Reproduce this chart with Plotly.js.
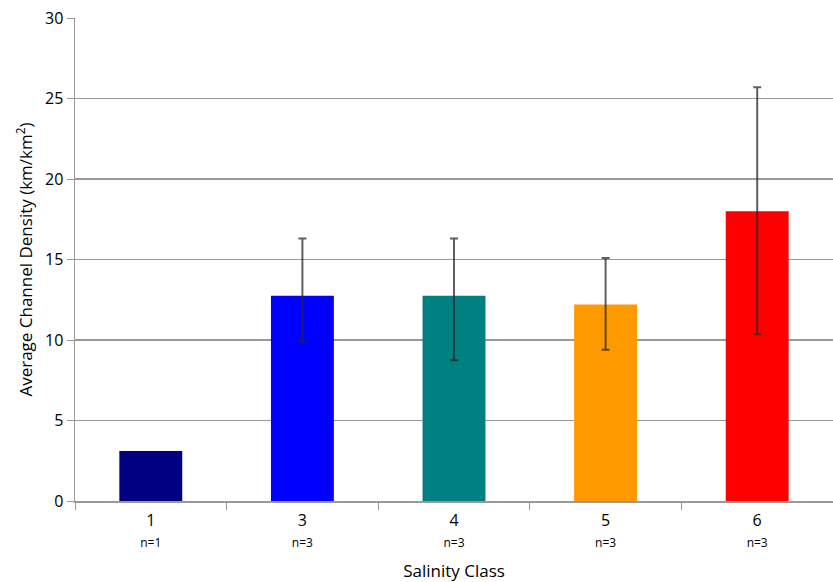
<!DOCTYPE html>
<html>
<head>
<meta charset="utf-8">
<script src="https://cdn.plot.ly/plotly-3.0.1.min.js"></script>
<style>html,body{margin:0;padding:0;background:#fff;}#chart{width:833px;height:582px;}</style>
</head>
<body>
<div id="chart"></div>
<script>
const categories = ['1', '3', '4', '5', '6'];
const sampleSizes = ['n=1', 'n=3', 'n=3', 'n=3', 'n=3'];
const meanDensity = [3.1, 12.75, 12.75, 12.2, 18.0];
const errorUpperValue = [null, 16.3, 16.3, 15.1, 25.7];
const errorLowerValue = [null, 9.9, 8.75, 9.4, 10.35];
const barColors = ['#000080', '#0000ff', '#008080', '#ff9900', '#ff0000'];

// error bars only where a range exists
const errIdx = categories.map((c, i) => i).filter(i => errorUpperValue[i] != null);
const errX = errIdx.map(i => categories[i]);
const errY = errIdx.map(i => meanDensity[i]);
const plus = errIdx.map(i => errorUpperValue[i] - meanDensity[i]);
const minus = errIdx.map(i => meanDensity[i] - errorLowerValue[i]);
const tickText = categories.map((c, i) => c + '<br><span style="font-size:12px">' + sampleSizes[i] + '</span>');

const bars = {
  type: 'bar',
  x: categories,
  y: meanDensity,
  marker: {color: barColors, line: {width: 0}},
  hoverinfo: 'none'
};
const errs = {
  type: 'scatter',
  mode: 'markers',
  x: errX,
  y: errY,
  marker: {size: 1, color: 'rgba(0,0,0,0)'},
  error_y: {
    type: 'data', symmetric: false,
    array: plus, arrayminus: minus,
    color: 'rgba(40,40,40,0.75)', thickness: 2, width: 4
  },
  hoverinfo: 'none'
};

const layout = {
  width: 833, height: 582,
  margin: {l: 75, r: 0, t: 18, b: 81},
  paper_bgcolor: '#fff', plot_bgcolor: '#fff',
  font: {family: 'Open Sans, DejaVu Sans, sans-serif', color: '#000'},
  showlegend: false,
  bargap: 0.585,
  xaxis: {
    type: 'category',
    tickvals: categories, ticktext: tickText,
    tickson: 'boundaries', ticks: 'outside', ticklen: 7, tickcolor: '#999',
    ticklabelstandoff: 4,
    showline: true, linecolor: '#999', linewidth: 1.5,
    showgrid: false, zeroline: false,
    tickfont: {size: 16, family: 'Open Sans, DejaVu Sans, sans-serif'},
    title: {text: 'Salinity Class', font: {size: 17}, standoff: 19}
  },
  yaxis: {
    range: [0, 30], dtick: 5, tick0: 0,
    ticks: 'outside', ticklen: 7, tickcolor: '#999',
    showline: true, linecolor: '#999', linewidth: 1.5,
    showgrid: true, gridcolor: '#999', gridwidth: 1.2,
    zeroline: false,
    tickfont: {size: 16, family: 'Open Sans, DejaVu Sans, sans-serif'},
    title: {text: 'Average Channel Density (km/km<sup>2</sup>)', font: {size: 17}, standoff: 8}
  }
};

Plotly.newPlot('chart', [bars, errs], layout, {displayModeBar: false, staticPlot: true});
</script>
</body>
</html>
